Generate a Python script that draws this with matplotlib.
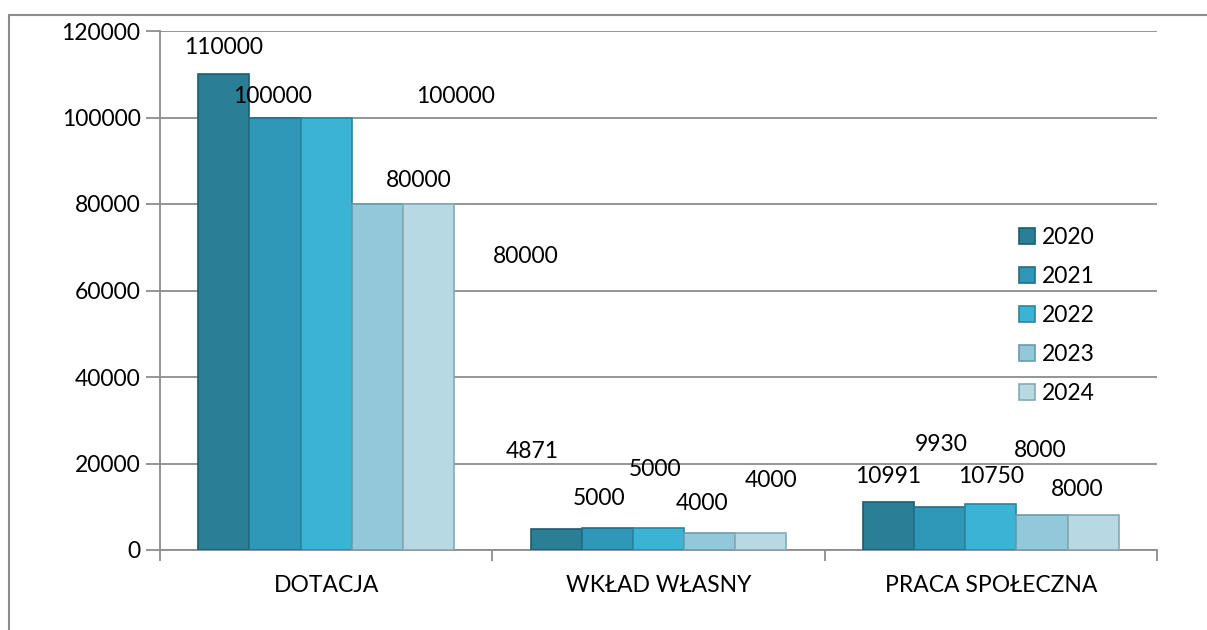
import numpy as np
import matplotlib.pyplot as plt
from matplotlib.patches import Rectangle

plt.rcParams['font.family'] = ['Lato', 'DejaVu Sans']

# ── DATA ──────────────────────────────────────────────────────────────────────
categories = ["DOTACJA", "WKŁAD WŁASNY", "PRACA SPOŁECZNA"]
years = ["2020", "2021", "2022", "2023", "2024"]

v2020 = [110000, 4871, 10991]
v2021 = [100000, 5000, 9930]
v2022 = [100000, 5000, 10750]
v2023 = [80000, 4000, 8000]
v2024 = [80000, 4000, 8000]
series = [v2020, v2021, v2022, v2023, v2024]

# data label placement (x offset from category centre, y in data units)
label_dx = [
    [-0.31, -0.16, 0.39, 0.28, 0.60],
    [-0.38, -0.18, -0.01, 0.13, 0.34],
    [-0.31, -0.15, 0.00, 0.15, 0.26],
]
label_y = [
    [116300, 104900, 104900, 85500, 67900],
    [22700, 12000, 18500, 10700, 16000],
    [16900, 24300, 16900, 22900, 13900],
]

colors = ["#2a7f96", "#2f98b8", "#3ab3d4", "#92c8da", "#b6d9e4"]
edges = ["#1d5d6e", "#216f86", "#2a86a0", "#6a9cab", "#86a9b4"]

FS = 16.5

# ── FIGURE ────────────────────────────────────────────────────────────────────
fig = plt.figure(figsize=(12.07, 6.30), dpi=100)
ax = fig.add_axes([160 / 1207, 80 / 630, 997 / 1207, 519 / 630])

# outer chart border
fig.patches.append(Rectangle((9 / 1207, -0.01), 1.0, 1 - 15 / 630 + 0.01,
                             transform=fig.transFigure, fill=False,
                             edgecolor="#8c8c8c", linewidth=1.5))

x = np.arange(len(categories))
width = 0.154
for i, (vals, c, ec, yr) in enumerate(zip(series, colors, edges, years)):
    pos = x + (i - 2) * width
    ax.bar(pos, vals, width=width, color=c, edgecolor=ec, linewidth=1.2,
           label=yr, zorder=3)

for ci in range(len(categories)):
    for si in range(len(years)):
        ax.text(x[ci] + label_dx[ci][si], label_y[ci][si],
                f"{series[si][ci]}", ha="center", va="center",
                fontsize=FS, color="black", zorder=5)

ax.set_xlim(-0.5, 2.5)
ax.set_ylim(0, 120000)
ax.set_yticks(np.arange(0, 120001, 20000))
ax.set_yticklabels([str(v) for v in range(0, 120001, 20000)], fontsize=FS)
ax.yaxis.grid(True, color="#8c8c8c", linewidth=1.3, zorder=0)
ax.set_axisbelow(True)

ax.set_xticks(x)
ax.set_xticklabels(categories, fontsize=FS)
ax.set_xticks([-0.5, 0.5, 1.5, 2.5], minor=True)
ax.tick_params(axis="x", which="major", length=0, pad=18)
ax.tick_params(axis="x", which="minor", length=8, color="#8c8c8c", width=1.3)
ax.tick_params(axis="y", length=10, color="#8c8c8c", width=1.3, pad=4)

for side in ["top", "right"]:
    ax.spines[side].set_visible(False)
for side in ["left", "bottom"]:
    ax.spines[side].set_color("#8c8c8c")
    ax.spines[side].set_linewidth(1.3)

leg = ax.legend(loc="upper left", bbox_to_anchor=(0.841, 0.662), frameon=False,
                fontsize=FS, handlelength=0.7, handleheight=0.7,
                handletextpad=0.3, labelspacing=0.78)

fig.savefig("out.png", dpi=100)
